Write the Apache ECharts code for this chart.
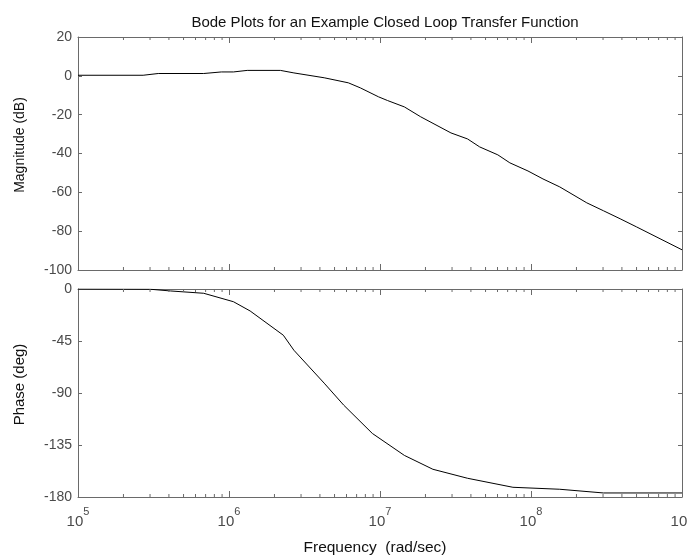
<!DOCTYPE html>
<html>
<head>
<meta charset="utf-8">
<script src="https://cdn.jsdelivr.net/npm/echarts@6/dist/echarts.min.js"></script>
<style>html,body{margin:0;padding:0;background:#fff}#c{width:687px;height:556px}</style>
</head>
<body>
<div id="c"></div>
<script>
// ---- data ----
var magFreq = [1.0e5, 2.7e5, 3.4e5, 6.8e5, 8.9e5, 1.07e6, 1.32e6, 2.19e6, 2.69e6, 4.27e6, 6.17e6, 7.41e6, 9.77e6,
  1.12e7, 1.45e7, 1.86e7, 2.95e7, 3.8e7, 4.57e7, 6.03e7, 7.24e7, 9.55e7, 1.2e8, 1.55e8, 2.34e8, 3.02e8, 3.89e8, 5.0e8, 1.0e9];
var magDb = [0.3, 0.3, 1.2, 1.2, 2.0, 2.0, 2.8, 2.8, 1.5, -1.0, -3.6, -6.2, -10.8,
  -12.7, -16.0, -21.1, -29.4, -32.5, -36.6, -40.7, -44.8, -49.0, -53.1, -57.2, -65.4, -69.5, -73.6, -77.8, -89.6];
var phFreq = [1.0e5, 3.0e5, 4.1e5, 6.8e5, 1.07e6, 1.38e6, 2.29e6, 2.69e6, 4.27e6, 5.75e6, 8.9e6,
  1.45e7, 2.24e7, 3.8e7, 7.59e7, 1.55e8, 3.02e8, 1.0e9];
var phDeg = [0, -0.2, -1.7, -3.7, -11, -19, -40, -53, -81.5, -100.5, -125,
  -144, -156, -163.8, -171.6, -173.3, -176.5, -176.5];
var minorTicks = [2e5,3e5,4e5,5e5,6e5,7e5,8e5,9e5, 2e6,3e6,4e6,5e6,6e6,7e6,8e6,9e6,
  2e7,3e7,4e7,5e7,6e7,7e7,8e7,9e7, 2e8,3e8,4e8,5e8,6e8,7e8,8e8,9e8];
var magTicks = {min: -100, max: 20, interval: 20};
var phTicks = {min: -180, max: 0, interval: 45};
var titleText = 'Bode Plots for an Example Closed Loop Transfer Function';

var FONT = "Arial, 'Liberation Sans', sans-serif";
var AX = '#6a6a6a';
var TXT = '#4a4a4a';
var chart = echarts.init(document.getElementById('c'));

function xAx(grid, pos, labels) {
  return {
    type: 'log', logBase: 10, min: 1e5, max: 1e9, gridIndex: grid, position: pos,
    axisLine: {show: true, onZero: false, lineStyle: {color: AX, width: 1}},
    axisTick: {show: true, inside: true, length: 6, lineStyle: {color: AX}},
    splitLine: {show: false},
    axisLabel: labels ? {
      show: true, margin: 9, color: TXT, fontFamily: FONT, hideOverlap: false,
      formatter: function (v) { return '{b|10}{s|' + Math.round(Math.log10(v)) + '}'; },
      rich: {
        b: {fontSize: 15, fontFamily: FONT, color: TXT, verticalAlign: 'bottom', lineHeight: 23},
        s: {fontSize: 11, fontFamily: FONT, color: TXT, verticalAlign: 'top', lineHeight: 23, padding: [0, 0, 10, 0]}
      }
    } : {show: false},
    name: labels ? 'Frequency  (rad/sec)' : '', nameLocation: 'middle', nameGap: 43,
    nameTextStyle: {color: '#111', fontSize: 15.5, fontFamily: FONT, padding: [0, 10, 0, 0]}
  };
}
function yAx(grid, pos, t, name, nameSize) {
  var lab = pos === 'left';
  return {
    type: 'value', gridIndex: grid, position: pos, min: t.min, max: t.max, interval: t.interval,
    axisLine: {show: true, onZero: false, lineStyle: {color: AX, width: 1}},
    axisTick: {show: true, inside: true, length: 4, lineStyle: {color: AX}},
    splitLine: {show: false},
    axisLabel: lab ? {show: true, margin: 6, color: TXT, fontSize: 14, fontFamily: FONT} : {show: false},
    name: lab ? name : '', nameLocation: 'middle', nameGap: 51,
    nameTextStyle: {color: '#111', fontSize: nameSize || 12, fontFamily: FONT, padding: [0, 0, 0, 17]}
  };
}
function minorSeries(xi, yi, t) {
  return {
    type: 'custom', xAxisIndex: xi, yAxisIndex: yi, silent: true, z: 5,
    data: minorTicks.map(function (f) { return [f]; }),
    renderItem: function (params, api) {
      var f = api.value(0);
      var b = api.coord([f, t.min]);
      var tp = api.coord([f, t.max]);
      var st = {stroke: AX, lineWidth: 1};
      return {type: 'group', children: [
        {type: 'line', shape: {x1: b[0], y1: b[1], x2: b[0], y2: b[1] - 3}, style: st},
        {type: 'line', shape: {x1: tp[0], y1: tp[1], x2: tp[0], y2: tp[1] + 3}, style: st}
      ]};
    }
  };
}

chart.setOption({
  animation: false,
  backgroundColor: '#fff',
  title: {text: titleText, left: 380, top: 10, textAlign: 'center',
    textStyle: {fontSize: 15, fontWeight: 'normal', color: '#111', fontFamily: FONT}},
  grid: [
    {left: 78, right: 5, top: 37, height: 233, containLabel: false, outerBoundsMode: 'none'},
    {left: 78, right: 5, top: 289, height: 208, containLabel: false, outerBoundsMode: 'none'}
  ],
  xAxis: [xAx(0, 'bottom', false), xAx(0, 'top', false), xAx(1, 'bottom', true), xAx(1, 'top', false)],
  yAxis: [yAx(0, 'left', magTicks, 'Magnitude (dB)', 14), yAx(0, 'right', magTicks, ''),
          yAx(1, 'left', phTicks, 'Phase (deg)', 15), yAx(1, 'right', phTicks, '')],
  series: [
    {type: 'line', xAxisIndex: 0, yAxisIndex: 0, showSymbol: false, symbol: 'none',
     lineStyle: {color: '#000', width: 1}, data: magFreq.map(function (f, i) { return [f, magDb[i]]; })},
    {type: 'line', xAxisIndex: 2, yAxisIndex: 2, showSymbol: false, symbol: 'none',
     lineStyle: {color: '#000', width: 1}, data: phFreq.map(function (f, i) { return [f, phDeg[i]]; })},
    minorSeries(0, 0, magTicks),
    minorSeries(2, 2, phTicks)
  ]
});
</script>
</body>
</html>
